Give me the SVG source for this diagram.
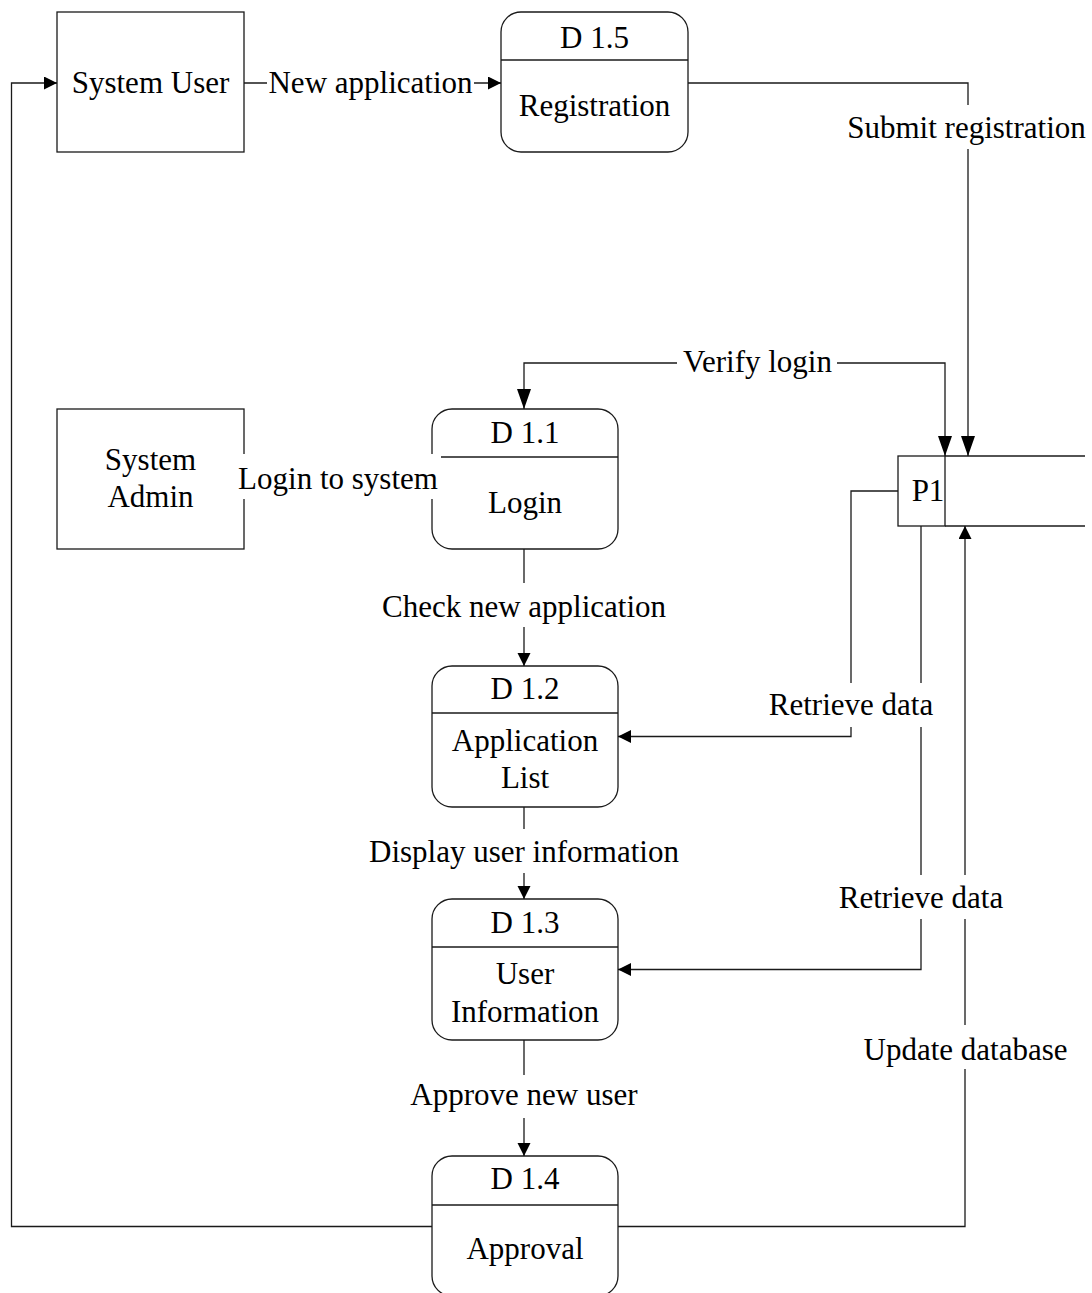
<svg xmlns="http://www.w3.org/2000/svg" width="1092" height="1293" viewBox="0 0 1092 1293">
<style>
.box{fill:#fff;stroke:#1a1a1a;stroke-width:1.3}
.ln{fill:none;stroke:#1a1a1a;stroke-width:1.3}
.t{font-family:"Liberation Serif","Times New Roman",serif;font-size:31px;fill:#000;text-anchor:middle}
.bg{fill:#fff;stroke:none}
</style>
<defs>
<marker id="arr" markerUnits="userSpaceOnUse" markerWidth="14" markerHeight="14" refX="13" refY="6.5" orient="auto-start-reverse">
<path d="M0,0 L13,6.5 L0,13 z" fill="#000"/>
</marker>
<marker id="arrL" markerUnits="userSpaceOnUse" markerWidth="21" markerHeight="15" refX="20" refY="7" orient="auto-start-reverse">
<path d="M0,0 L20,7 L0,14 z" fill="#000"/>
</marker>
</defs>
<rect width="1092" height="1293" fill="#fff"/>

<g id="system-user">
<rect class="box" x="57" y="12" width="187" height="140"/>
<text class="t" x="150.5" y="93">System User</text>
</g>
<g id="d15-registration">
<rect class="box" x="501" y="12" width="187" height="140" rx="20"/>
<line class="ln" x1="501" y1="60" x2="688" y2="60"/>
<text class="t" x="594.5" y="48">D 1.5</text>
<text class="t" x="594.5" y="116">Registration</text>
</g>
<g id="system-admin">
<rect class="box" x="57" y="409" width="187" height="140"/>
<text class="t" x="150.5" y="470">System</text>
<text class="t" x="150.5" y="507">Admin</text>
</g>
<g id="d11-login">
<rect class="box" x="432" y="409" width="186" height="140" rx="20"/>
<line class="ln" x1="432" y1="457" x2="618" y2="457"/>
<text class="t" x="525" y="443">D 1.1</text>
<text class="t" x="525" y="513">Login</text>
</g>
<g id="d12-application-list">
<rect class="box" x="432" y="666" width="186" height="141" rx="20"/>
<line class="ln" x1="432" y1="713" x2="618" y2="713"/>
<text class="t" x="525" y="699">D 1.2</text>
<text class="t" x="525" y="751">Application</text>
<text class="t" x="525" y="788">List</text>
</g>
<g id="d13-user-information">
<rect class="box" x="432" y="899" width="186" height="141" rx="20"/>
<line class="ln" x1="432" y1="947" x2="618" y2="947"/>
<text class="t" x="525" y="933">D 1.3</text>
<text class="t" x="525" y="984">User</text>
<text class="t" x="525" y="1022">Information</text>
</g>
<g id="d14-approval">
<rect class="box" x="432" y="1156" width="186" height="140" rx="20"/>
<line class="ln" x1="432" y1="1205" x2="618" y2="1205"/>
<text class="t" x="525" y="1189">D 1.4</text>
<text class="t" x="525" y="1259">Approval</text>
</g>
<g id="p1-store">
<rect class="box" x="898" y="456" width="47" height="70"/>
<line class="ln" x1="945" y1="456" x2="1085" y2="456"/>
<line class="ln" x1="945" y1="526" x2="1085" y2="526"/>
<text class="t" x="928" y="501">P1</text>
</g>

<g id="connectors">
<path class="ln" d="M244,83 H501" marker-end="url(#arr)"/>
<path class="ln" d="M688,83 H968 V456" marker-end="url(#arrL)"/>
<path class="ln" d="M945,456 V363 H524 V409" marker-start="url(#arrL)" marker-end="url(#arrL)"/>
<path class="ln" d="M244,477 H432" marker-end="url(#arr)"/>
<path class="ln" d="M524,549 V666" marker-end="url(#arr)"/>
<path class="ln" d="M898,491 H851 V736.5 H618" marker-end="url(#arr)"/>
<path class="ln" d="M921,526 V969.5 H618" marker-end="url(#arr)"/>
<path class="ln" d="M618,1226.5 H965 V526" marker-end="url(#arr)"/>
<path class="ln" d="M524,807 V899" marker-end="url(#arr)"/>
<path class="ln" d="M524,1040 V1156" marker-end="url(#arr)"/>
<path class="ln" d="M432,1226.5 H11.5 V83 H57" marker-end="url(#arr)"/>

<g id="lbl-new-application">
<rect class="bg" x="267" y="61" width="207" height="44"/>
<text class="t" x="370.5" y="93">New application</text>
</g>
<g id="lbl-submit-registration">
<rect class="bg" x="846" y="105" width="242" height="44"/>
<text class="t" x="966.5" y="138">Submit registration</text>
</g>
<g id="lbl-verify-login">
<rect class="bg" x="677" y="341" width="160" height="44"/>
<text class="t" x="757.5" y="372">Verify login</text>
</g>
<g id="lbl-login-to-system">
<rect class="bg" x="237" y="454" width="204" height="45"/>
<text class="t" x="338" y="489">Login to system</text>
</g>
<g id="lbl-check-new-application">
<rect class="bg" x="380" y="583" width="288" height="44"/>
<text class="t" x="524" y="617">Check new application</text>
</g>
<g id="lbl-retrieve-data-1">
<rect class="bg" x="767" y="683" width="168" height="44"/>
<text class="t" x="851" y="715">Retrieve data</text>
</g>
<g id="lbl-retrieve-data-2">
<rect class="bg" x="837" y="875" width="168" height="44"/>
<text class="t" x="921" y="908">Retrieve data</text>
</g>
<g id="lbl-update-database">
<rect class="bg" x="862" y="1025" width="207" height="44"/>
<text class="t" x="965.5" y="1060">Update database</text>
</g>
<g id="lbl-display-user-information">
<rect class="bg" x="367" y="829" width="314" height="44"/>
<text class="t" x="524" y="862">Display user information</text>
</g>
<g id="lbl-approve-new-user">
<rect class="bg" x="407" y="1075" width="234" height="43"/>
<text class="t" x="524" y="1105">Approve new user</text>
</g>
</g>
</svg>
